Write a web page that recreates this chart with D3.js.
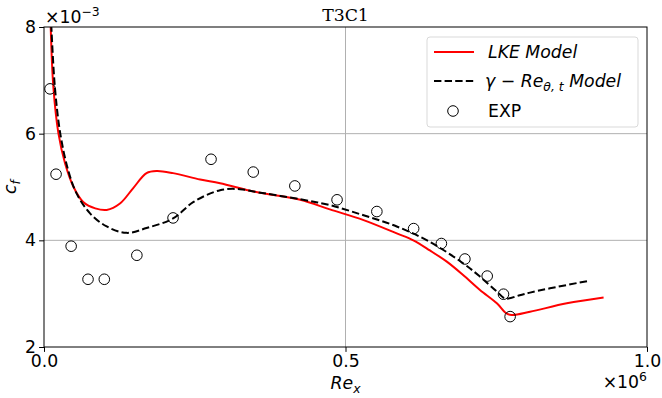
<!DOCTYPE html>
<html>
<head>
<meta charset="utf-8">
<script src="https://d3js.org/d3.v7.min.js"></script>
<style>
  body { margin: 0; background: #fff; }
  text { font-family: "DejaVu Sans", sans-serif; fill: #000; }
</style>
</head>
<body>
<div id="chart"></div>
<script>
// Re_x in units of 1e6, c_f in units of 1e-3
var lkeX = [0.011, 0.0155, 0.024, 0.035, 0.049, 0.065, 0.085, 0.104, 0.126, 0.148, 0.170, 0.187, 0.214, 0.259, 0.292, 0.35, 0.425, 0.474, 0.530, 0.585, 0.6125, 0.640, 0.668, 0.695, 0.723, 0.751, 0.767, 0.776, 0.806, 0.867, 0.928];
var lkeY = [8.05, 6.88, 6.0, 5.44, 5.0, 4.72, 4.6, 4.57, 4.69, 4.98, 5.26, 5.30, 5.26, 5.14, 5.07, 4.91, 4.76, 4.58, 4.38, 4.13, 4.0, 3.81, 3.60, 3.35, 3.07, 2.82, 2.63, 2.60, 2.66, 2.82, 2.93];

var gamX = [0.012, 0.018, 0.027, 0.040, 0.054, 0.076, 0.104, 0.137, 0.170, 0.214, 0.248, 0.292, 0.325, 0.35, 0.425, 0.474, 0.530, 0.585, 0.640, 0.695, 0.723, 0.751, 0.765, 0.789, 0.806, 0.839, 0.903];
var gamY = [8.05, 6.88, 6.0, 5.32, 4.88, 4.51, 4.26, 4.14, 4.23, 4.41, 4.72, 4.94, 4.96, 4.91, 4.77, 4.66, 4.47, 4.26, 3.97, 3.57, 3.32, 3.04, 2.91, 2.97, 3.02, 3.10, 3.24];

var expX = [0.010, 0.020, 0.045, 0.073, 0.100, 0.154, 0.214, 0.277, 0.347, 0.416, 0.486, 0.552, 0.613, 0.659, 0.698, 0.735, 0.762, 0.773];
var expY = [6.84, 5.24, 3.89, 3.27, 3.27, 3.72, 4.42, 5.52, 5.28, 5.02, 4.76, 4.54, 4.22, 3.94, 3.65, 3.33, 2.99, 2.57];

var xTicks = [0, 0.5, 1.0];
var yTicks = [2, 4, 6, 8];
var xGrid = [0.5];
var yGrid = [4, 6];

var W = 662, H = 398;
var margin = {top: 27, right: 15, bottom: 51, left: 44};
var width = W - margin.left - margin.right,
    height = H - margin.top - margin.bottom;
var fs = "17.3px", fsSub = "12.4px";

var svg = d3.select("#chart").append("svg")
    .attr("width", W).attr("height", H);

var g = svg.append("g")
    .attr("transform", "translate(" + margin.left + "," + margin.top + ")");

var x = d3.scaleLinear().domain([0, 1]).range([0, width]);
var y = d3.scaleLinear().domain([2, 8]).range([height, 0]);

// grid
g.selectAll(".gx").data(xGrid).enter().append("line")
    .attr("x1", d => x(d)).attr("x2", d => x(d))
    .attr("y1", 0).attr("y2", height)
    .attr("stroke", "#b0b0b0").attr("stroke-width", 1);
g.selectAll(".gy").data(yGrid).enter().append("line")
    .attr("x1", 0).attr("x2", width)
    .attr("y1", d => y(d)).attr("y2", d => y(d))
    .attr("stroke", "#b0b0b0").attr("stroke-width", 1);

g.append("clipPath").attr("id", "clip").append("rect")
    .attr("width", width).attr("height", height);

var line = d3.line()
    .x(d => x(d[0])).y(d => y(d[1]))
    .curve(d3.curveCatmullRom.alpha(0.5));

var plot = g.append("g").attr("clip-path", "url(#clip)");

plot.append("path")
    .datum(d3.zip(lkeX, lkeY))
    .attr("fill", "none").attr("stroke", "#ff0000").attr("stroke-width", 2)
    .attr("d", line);

plot.append("path")
    .datum(d3.zip(gamX, gamY))
    .attr("fill", "none").attr("stroke", "#000").attr("stroke-width", 2)
    .attr("stroke-dasharray", "7.4,3.2")
    .attr("d", line);

plot.selectAll(".exp").data(d3.zip(expX, expY)).enter().append("circle")
    .attr("cx", d => x(d[0])).attr("cy", d => y(d[1]))
    .attr("r", 5.3)
    .attr("fill", "none").attr("stroke", "#000").attr("stroke-width", 1);

// axes
var xAxis = g.append("g").attr("transform", "translate(0," + height + ")")
    .call(d3.axisBottom(x).tickValues(xTicks).tickFormat(d3.format(".1f")).tickSize(4.9).tickPadding(3));
var yAxis = g.append("g")
    .call(d3.axisLeft(y).tickValues(yTicks).tickFormat(d3.format("d")).tickSize(4.9).tickPadding(3));
[xAxis, yAxis].forEach(function(a) {
  a.select(".domain").remove();
  a.selectAll("text").style("font-size", fs).style("font-family", "DejaVu Sans");
  a.selectAll("line").attr("stroke", "#000");
});

g.append("rect").attr("width", width).attr("height", height)
    .attr("fill", "none").attr("stroke", "#000").attr("stroke-width", 1);

// title
svg.append("text").attr("x", margin.left + width / 2).attr("y", 21)
    .attr("text-anchor", "middle")
    .style("font-family", "DejaVu Serif").style("font-size", fs)
    .text("T3C1");

// offset texts
var oy = svg.append("text").attr("x", margin.left + 1).attr("y", 23)
    .style("font-size", fs);
oy.append("tspan").text("×10");
oy.append("tspan").attr("dy", -7).style("font-size", fsSub).text("−3");

var ox = svg.append("text").attr("x", W - 15).attr("y", 388)
    .attr("text-anchor", "end").style("font-size", fs);
ox.append("tspan").text("×10");
ox.append("tspan").attr("dy", -7).style("font-size", fsSub).text("6");

// axis labels
var xl = svg.append("text").attr("x", margin.left + width / 2).attr("y", 389)
    .attr("text-anchor", "middle").style("font-size", fs).style("font-style", "italic");
xl.append("tspan").text("Re");
xl.append("tspan").attr("dy", 4).style("font-size", fsSub).text("x");

var yl = svg.append("text")
    .attr("transform", "translate(16," + (margin.top + height / 2) + ") rotate(-90)")
    .attr("text-anchor", "middle").style("font-size", fs).style("font-style", "italic");
yl.append("tspan").text("c");
yl.append("tspan").attr("dy", 4).style("font-size", fsSub).text("f");

// legend
var leg = svg.append("g").attr("transform", "translate(427,37)");
leg.append("rect").attr("width", 211).attr("height", 90).attr("rx", 3)
    .attr("fill", "#fff").attr("fill-opacity", 0.8)
    .attr("stroke", "#d9d9d9").attr("stroke-width", 1);

leg.append("line").attr("x1", 7).attr("x2", 47).attr("y1", 15).attr("y2", 15)
    .attr("stroke", "#ff0000").attr("stroke-width", 2);
leg.append("text").attr("x", 61).attr("y", 21)
    .style("font-size", fs).style("font-style", "italic").text("LKE Model");

leg.append("line").attr("x1", 7).attr("x2", 47).attr("y1", 44).attr("y2", 44)
    .attr("stroke", "#000").attr("stroke-width", 2).attr("stroke-dasharray", "7.4,3.2");
var lt = leg.append("text").attr("x", 58).attr("y", 50)
    .style("font-size", fs).style("font-style", "italic");
lt.append("tspan").text("γ − Re");
lt.append("tspan").attr("dy", 4).style("font-size", fsSub).text("θ, t");
lt.append("tspan").attr("dy", -4).text(" Model");

leg.append("circle").attr("cx", 26).attr("cy", 74).attr("r", 5.3)
    .attr("fill", "none").attr("stroke", "#000").attr("stroke-width", 1);
leg.append("text").attr("x", 61).attr("y", 79.5)
    .style("font-size", fs).text("EXP");
</script>
</body>
</html>
